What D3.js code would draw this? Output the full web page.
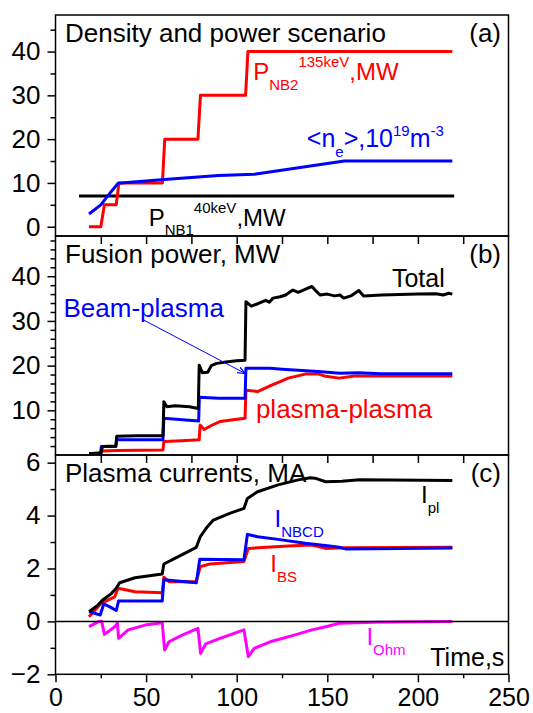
<!DOCTYPE html>
<meta charset="utf-8">
<style>

body {
  margin: 0;
  background: #fff;
}

text {
  font-family: "Liberation Sans", Arial, sans-serif;
}

.axis text {
  font-size: 26px;
  fill: #000;
}

.axis--x text {
  font-size: 25px;
}

.axis line {
  stroke: #000;
  stroke-width: 1.5px;
}

.axis path {
  display: none;
}

.frame {
  fill: none;
  stroke: #000;
  stroke-width: 1.5px;
}

.line {
  fill: none;
  stroke-width: 3px;
  stroke-linejoin: round;
}

</style>
<svg width="533" height="713"></svg>
<script src="https://d3js.org/d3.v7.min.js"></script>
<script>

// (a) density and power scenario: [time s, value]
var pNB1 = [[13, 7], [220, 7]];
var pNB2 = [[18.5, 0], [25, 0], [27, 5], [33.5, 5], [35, 10], [59, 10], [60.3, 20],
            [78.6, 20], [80, 30], [104.9, 30], [106.2, 40], [219, 40]];
var density = [[18.5, 2.9], [25, 5], [30.7, 8], [34.5, 9.9], [60, 10.8], [90, 11.7],
               [109.7, 12], [159.4, 15], [219, 15]];

// (b) fusion power, MW
var totalPower = [[18.5, 0.3], [25, 0.5], [26, 1.9], [33.3, 2], [33.8, 4.2], [45, 4.3],
  [59.3, 4.3], [59.8, 11.9], [61.5, 10.8], [66, 11], [70, 10.9], [74, 10.8], [78.8, 10.4],
  [79.3, 20.1], [81, 18.4], [84, 18.5], [86, 20], [89, 20.5], [94, 20.8], [100, 21.1],
  [104.6, 21.2], [105.1, 34.3], [108, 33.3], [112, 33.9], [116, 34.6], [118, 34.2],
  [120, 35.1], [124, 35.4], [127, 35.8], [131, 36.9], [134, 36.4], [138, 37.1],
  [141.5, 37.7], [144, 36.6], [146, 35.8], [150, 36], [154, 35.6], [157, 35.8],
  [159, 35.1], [163, 35.6], [167.4, 36.8], [170, 35.6], [180, 35.8], [190, 35.9],
  [200, 36], [210, 36.1], [214, 35.8], [217, 36.2], [219, 36]];
var beamPlasma = [[18.5, 0.2], [24.9, 0.2], [25.3, 1.9], [33.3, 1.9], [33.8, 3.4],
  [59.3, 3.4], [59.8, 8.2], [70, 7.9], [79, 7.6], [79.4, 12.9], [90, 12.7], [104.6, 12.7],
  [105.1, 19.4], [118.5, 19.4], [125, 19.2], [131.6, 19], [145, 18.7], [157, 18.3],
  [167, 18.4], [180, 18.2], [219, 18.2]];
var plasmaPlasma = [[18.5, 0.2], [25, 0.3], [26, 0.9], [33.5, 1], [59.3, 1.1], [59.8, 3],
  [70, 3.2], [79.3, 3.4], [79.8, 6.7], [82, 5.7], [86, 6.6], [91, 7.5], [98, 7.9],
  [104.6, 8.2], [105.1, 14.5], [111.5, 14.2], [119, 15.6], [124, 16.4], [128.4, 17.2],
  [137.8, 18.1], [145.3, 18.1], [149.1, 17.6], [156.6, 17.2], [165, 17.7], [219, 17.7]];

// (c) plasma currents, MA
var iPl = [[18.5, 0.37], [23.2, 0.6], [26, 0.81], [30.7, 1.04], [33.5, 1.25], [35.4, 1.46],
  [43.9, 1.65], [58.9, 1.79], [59.8, 2.17], [68.3, 2.47], [77.7, 2.8], [79.9, 3.2],
  [83.5, 3.55], [87.1, 3.83], [96.5, 4.09], [104, 4.27], [105.9, 4.65], [111.5, 4.9],
  [122.8, 5.16], [134, 5.35], [140.6, 5.43], [144, 5.4], [149.1, 5.28], [158, 5.3],
  [167.8, 5.35], [219, 5.33]];
var iNBCD = [[18.5, 0.37], [24.7, 0.24], [26.6, 0.66], [30, 0.55], [33.5, 0.41],
  [34.8, 0.77], [58.9, 0.77], [59.8, 1.57], [77.7, 1.46], [79.6, 2.35], [104, 2.33],
  [105.9, 3.29], [111.5, 3.2], [122.8, 3.1], [137.8, 2.95], [150, 2.86], [156.6, 2.8],
  [160, 2.74], [219, 2.77]];
var iBS = [[18.5, 0.18], [25.1, 0.68], [32.7, 0.93], [34.5, 1.25], [43.9, 1.12],
  [58.9, 1.08], [59.8, 1.67], [62.6, 1.5], [77.7, 1.5], [79.9, 2.07], [85.2, 2.17],
  [104, 2.26], [106.4, 2.76], [128.4, 2.85], [141.5, 2.89], [149, 2.76], [160, 2.78],
  [219, 2.8]];
var iOhm = [[18.5, -0.2], [24, 0], [25.5, 0], [27, -0.49], [32.7, -0.2], [34.2, -0.07],
  [34.8, -0.64], [40.1, -0.32], [49.5, -0.14], [58.9, -0.05], [60.2, -1.08], [62.6, -0.77],
  [70.2, -0.51], [78.6, -0.26], [80.1, -1.21], [82.9, -0.85], [90.8, -0.64], [104, -0.32],
  [106.4, -1.33], [109.7, -1.02], [118.5, -0.77], [132.2, -0.51], [141.5, -0.32],
  [149.1, -0.2], [156.6, -0.07], [175.4, -0.03], [219, 0]];

var xTicks = [0, 50, 100, 150, 200, 250];
var xMinor = [25, 75, 125, 175, 225];
var xInner = [25, 50, 75, 100, 125, 150, 175, 200, 225];

var svg = d3.select("svg");

var left = 55.5, right = 508.5;

var x = d3.scaleLinear().domain([0, 250]).range([left, right]);

var panels = [
  {top: 15, bottom: 236, domain: [-2.12, 48.35], major: [0, 10, 20, 30, 40],
   minor: [5, 15, 25, 35, 45], title: "Density and power scenario", tag: "(a)"},
  {top: 236, bottom: 455, domain: [0, 49], major: [10, 20, 30, 40],
   minor: d3.range(2, 49, 2).filter(function(d) { return d % 10 !== 0; }),
   title: "Fusion power, MW", tag: "(b)"},
  {top: 455, bottom: 674.3, domain: [-2, 6.29], major: [-2, 0, 2, 4, 6],
   minor: [-1, 1, 3, 5], title: "Plasma currents, MA", tag: "(c)"}
];

panels.forEach(function(p, i) {
  p.y = d3.scaleLinear().domain(p.domain).range([p.bottom, p.top]);
  p.g = svg.append("g");

  svg.append("clipPath")
      .attr("id", "clip" + i)
    .append("rect")
      .attr("x", left)
      .attr("y", p.top)
      .attr("width", right - left)
      .attr("height", p.bottom - p.top);

  p.plot = p.g.append("g").attr("clip-path", "url(#clip" + i + ")");

  p.g.append("g")
      .attr("class", "axis")
      .attr("transform", "translate(" + left + ",0)")
      .call(d3.axisLeft(p.y).tickValues(p.major).tickSize(8).tickPadding(7)
        .tickFormat(d3.format("d")));

  p.g.append("g")
      .attr("class", "axis")
      .attr("transform", "translate(" + left + ",0)")
      .call(d3.axisLeft(p.y).tickValues(p.minor).tickSize(5).tickFormat(""));

  // inward ticks along the top edge of the lower panels
  if (i > 0) {
    p.g.append("g")
        .attr("class", "axis")
        .attr("transform", "translate(0," + p.top + ")")
        .call(d3.axisBottom(x).tickValues(xInner).tickSize(8).tickFormat(""));
  }

  p.g.append("text")
      .attr("x", left + 9.5)
      .attr("y", p.top + 26.7)
      .style("font-size", "26px")
      .text(p.title);

  p.g.append("text")
      .attr("x", right - 7.5)
      .attr("y", p.top + 26.7)
      .attr("text-anchor", "end")
      .style("font-size", "26px")
      .text(p.tag);
});

var pa = panels[0], pb = panels[1], pc = panels[2];

// bottom time axis
svg.append("g")
    .attr("class", "axis axis--x")
    .attr("transform", "translate(0," + pc.bottom + ")")
    .call(d3.axisBottom(x).tickValues(xTicks).tickSize(8).tickPadding(6));

svg.append("g")
    .attr("class", "axis")
    .attr("transform", "translate(0," + pc.bottom + ")")
    .call(d3.axisBottom(x).tickValues(xMinor).tickSize(4).tickFormat(""));

// zero line in (c)
pc.g.append("line")
    .attr("x1", left)
    .attr("x2", right)
    .attr("y1", pc.y(0))
    .attr("y2", pc.y(0))
    .attr("stroke", "#000")
    .attr("stroke-width", 1.5);

function drawLine(p, data, color, width) {
  p.plot.append("path")
      .datum(data)
      .attr("class", "line")
      .style("stroke", color)
      .style("stroke-width", width || 3)
      .attr("d", d3.line()
          .x(function(d) { return x(d[0]); })
          .y(function(d) { return p.y(d[1]); }));
}

drawLine(pa, pNB1, "#000");
drawLine(pa, pNB2, "#ff0000");
drawLine(pa, density, "#0000ff");

drawLine(pb, plasmaPlasma, "#ff0000");
drawLine(pb, beamPlasma, "#0000ff");
drawLine(pb, totalPower, "#000");

drawLine(pc, iOhm, "#ff00ff");
drawLine(pc, iBS, "#ff0000");
drawLine(pc, iNBCD, "#0000ff");
drawLine(pc, iPl, "#000");

// labels with sub/superscripts: parts = [text, font size, baseline offset]
function label(p, t, v, color, parts, anchor) {
  var text = p.g.append("text")
      .attr("x", x(t))
      .attr("y", p.y(v))
      .attr("text-anchor", anchor || "start")
      .style("fill", color);
  var prev = 0;
  parts.forEach(function(d) {
    text.append("tspan")
        .attr("dy", d[2] - prev)
        .style("font-size", d[1] + "px")
        .text(d[0]);
    prev = d[2];
  });
}

label(pa, 109.1, 33.6, "#ff0000", [["P", 24, 0], ["NB2", 15, 10], ["135keV", 15, -12.5], [",MW", 24, 0]]);
label(pa, 138.7, 18.3, "#0000ff", [["<n", 25, 0], ["e", 15, 10], [">,10", 25, 0], ["19", 15, -11], ["m", 25, 0], ["-3", 15, -11]]);
label(pa, 51.4, 0.16, "#000", [["P", 24, 0], ["NB1", 15, 9], ["40keV", 15, -13], [",MW", 24, 0]]);

label(pb, 214.8, 37.7, "#000", [["Total", 25, 0]], "end");
label(pb, 4.4, 30.8, "#0000ff", [["Beam-plasma", 26, 0]]);
label(pb, 110.6, 8.2, "#ff0000", [["plasma-plasma", 26, 0]]);

label(pc, 201.7, 4.48, "#000", [["I", 24, 0], ["pl", 15, 10.5]]);
label(pc, 120.9, 3.57, "#0000ff", [["I", 24, 0], ["NBCD", 15, 10.5]]);
label(pc, 118.5, 1.88, "#ff0000", [["I", 24, 0], ["BS", 15, 10.5]]);
label(pc, 171.6, -0.89, "#ff00ff", [["I", 24, 0], ["Ohm", 15, 10.5]]);
label(pc, 247.7, -1.69, "#000", [["Time,s", 25, 0]], "end");

// arrow from the Beam-plasma label to its curve
svg.append("defs").append("marker")
    .attr("id", "head")
    .attr("viewBox", "0 0 10 10")
    .attr("refX", 9)
    .attr("refY", 5)
    .attr("markerWidth", 8)
    .attr("markerHeight", 8)
    .attr("markerUnits", "userSpaceOnUse")
    .attr("orient", "auto")
  .append("path")
    .attr("d", "M0,1L10,5L0,9")
    .attr("fill", "none")
    .attr("stroke", "#0000ff")
    .attr("stroke-width", 1.5);

pb.g.append("line")
    .attr("x1", x(47.7))
    .attr("y1", pb.y(30.4))
    .attr("x2", x(104.4))
    .attr("y2", pb.y(18.3))
    .attr("stroke", "#0000ff")
    .attr("stroke-width", 1)
    .attr("marker-end", "url(#head)");

// panel frames on top
panels.forEach(function(p) {
  svg.append("rect")
      .attr("class", "frame")
      .attr("x", left)
      .attr("y", p.top)
      .attr("width", right - left)
      .attr("height", p.bottom - p.top);
});

</script>
